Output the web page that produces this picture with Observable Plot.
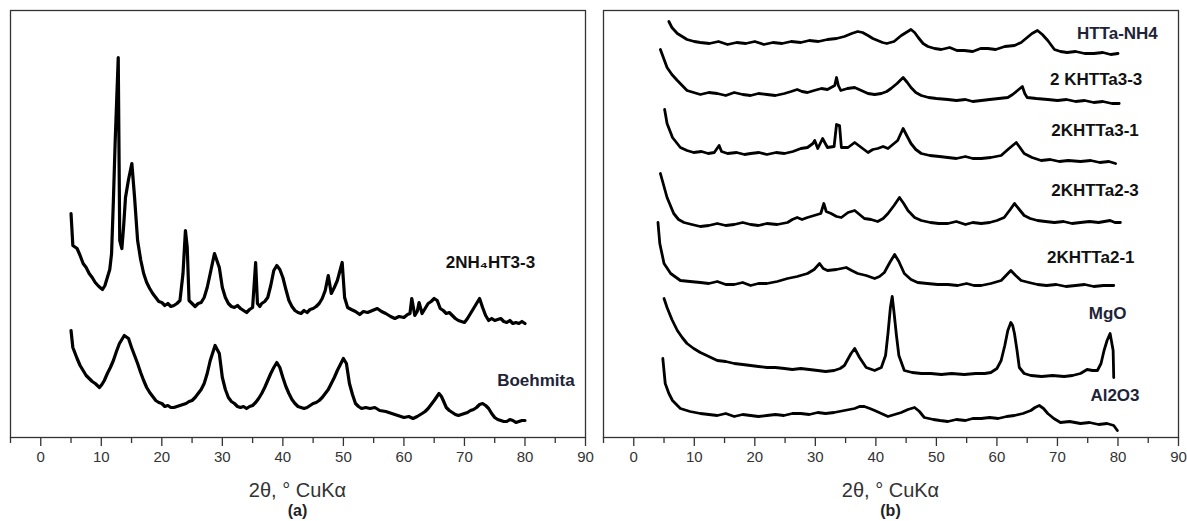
<!DOCTYPE html>
<html>
<head>
<meta charset="utf-8">
<script src="https://cdn.jsdelivr.net/npm/d3@7"></script>
<script src="https://cdn.jsdelivr.net/npm/@observablehq/plot@0.6"></script>
<style>
  html, body { margin: 0; padding: 0; background: #fff; }
  body { width: 1187px; height: 521px; overflow: hidden; font-family: "Liberation Sans", Arial, sans-serif; }
  #wrap { display: flex; flex-direction: row; }
  .panel { display: flex; flex-direction: column; align-items: stretch; }
  .xtitle { text-align: center; font-size: 20px; line-height: 22px; margin-top: 9px; color: #333; }
  .cap { text-align: center; font-size: 16px; font-weight: bold; line-height: 20px; color: #222; }
  .panel.a .xtitle, .panel.a .cap { padding-left: 10px; padding-right: 10px; }
  .panel.b .xtitle, .panel.b .cap { padding-left: 8px; padding-right: 9px; }
</style>
</head>
<body>
<div id="wrap">
  <div class="panel a" id="pa"></div>
  <div class="panel b" id="pb"></div>
</div>
<script>
// ---------- axis ----------
const xDomain = [-5, 90];
const majorTicks = [0, 10, 20, 30, 40, 50, 60, 70, 80, 90];
const minorTicks = [-5, 5, 15, 25, 35, 45, 55, 65, 75, 85];
const xTitle = "2θ, ° CuKα";
const captions = ["(a)", "(b)"];

// ---------- panel (a) series: [2θ, intensity (a.u., offset)] ----------
const nh4ht33 = [
  [5,224],[5.3,192],[6,189],[6.5,182],[7,174],[7.5,170],[8,164],[8.5,160],[9,155],[9.6,151],[10.2,148],[10.6,152],[11,160],[11.4,168],[11.7,184],[12,237],
  [12.3,297],[12.8,380],[13.05,197],[13.4,189],[13.7,212],[14,240],[14.5,258],[15.05,274],[15.5,240],[16,197],[16.5,178],[17,164],[17.5,155],[18,149],
  [18.5,144],[19,140],[19.5,136],[20,135],[20.5,132],[21,134],[21.5,131],[22,132],[22.5,134],[23,137],[23.5,164],[23.9,207],[24.2,190],[24.5,137],
  [25,134],[25.5,131],[26,134],[26.5,135],[27,140],[27.5,150],[28,164],[28.7,184],[29.5,170],[30,150],[30.5,140],[31,134],[31.5,131],[32,130],[32.5,132],[33,129],
  [33.5,127],[34,125],[34.5,128],[35,130],[35.5,175],[35.8,134],[36.2,131],[36.5,134],[37,136],[37.5,140],[38,152],[38.5,167],[39,172],[39.5,168],[40,160],
  [40.5,148],[41,137],[41.5,131],[42,127],[42.5,125],[43,124],[43.5,127],[44,125],[44.5,128],[45,129],[45.5,131],[46,134],[46.5,139],[47,147],[47.5,162],[48,144],[48.5,150],[49,157],
  [49.8,175],[50.2,140],[50.7,130],[51.3,128],[52,126],[52.7,123],[53.3,126],[54,125],[54.8,127],[55.6,129],[56.3,126],[57,124],[57.8,121],[58.5,119],[59.2,121],[60,120],
  [60.6,123],[61,124],[61.3,139],[61.8,122],[62.2,126],[62.5,135],[63,124],[63.5,129],[64,134],[64.5,136],[65,139],[65.5,137],[66,129],
  [66.5,127],[67,124],[67.5,125],[68,122],[68.5,119],[69,117],[69.5,116],[70,115],[70.5,119],[71,124],[71.5,129],[72,134],[72.5,139],[73,130],[73.5,122],[74,117],[74.5,119],[75,117],
  [75.5,118],[76,119],[76.5,116],[77,115],[77.5,117],[78,114],[78.5,115],[79,114],[79.5,116],[80,114]
];
const boehmita = [
  [5,107],[5.3,90],[6,79],[6.5,72],[7,67],[7.5,62],[8,59],[8.5,56],[9,54],[9.7,50],[10.1,53],[10.5,57],[11,64],[11.5,70],[12,77],[12.5,86],[13,94],
  [13.8,102],[14.5,99],[15,90],[15.5,82],[16,74],[16.5,65],[17,57],[17.5,50],[18,45],[18.5,41],[19,37],[19.5,35],[20,34],[20.5,31],[21,32],[21.5,30],[22,30],[22.5,31],[23,32],
  [23.5,33],[24,34],[24.5,36],[25,37],[25.5,40],[26,44],[26.5,48],[27,54],[27.5,64],[28,77],[28.8,92],[29.5,84],[30,60],[30.5,48],[31,40],[31.5,36],[32,34],[32.5,31],[33,30],
  [33.5,31],[34,29],[34.5,31],[35,32],[35.5,35],[36,39],[36.5,44],[37,50],[37.5,57],[38,64],[38.5,70],[39,75],[39.5,70],[40,60],[40.5,51],[41,44],[41.5,38],[42,34],[42.5,31],[43,30],
  [43.5,29],[44,30],[44.5,32],[45,34],[45.5,35],[46,37],[46.5,40],[47,44],[47.5,48],[48,54],[48.5,60],[49,67],[49.5,73],[50,79],[50.5,74],[51,54],[51.5,43],[52,34],[52.5,31],[53,29],
  [53.7,30],[54.4,29],[55.2,30],[56,27],[57,26],[58,24],[59,22],[60,20],[60.8,21],[61.5,19],[62.2,21],[63,24],[63.5,26],[64,29],[64.5,33],[65,37],[65.8,44],[66.2,41],[66.5,37],
  [67,30],[67.5,27],[68,25],[68.5,23],[69,22],[69.5,23],[70,24],[70.5,25],[71,27],[71.5,28],[72,30],[72.5,33],[73,34],[73.5,32],[74,29],[74.5,24],[75,20],[75.5,18],[76,17],[76.5,16],[77,16],
  [77.5,18],[78,17],[78.5,15],[79,16],[79.5,17],[80,17]
];
const seriesA = [nh4ht33, boehmita];
const labelTextA = ["2NH₄HT3-3", "Boehmita"];
const labelXA = [74.3, 81.8];
const labelYA = [175, 57];

// ---------- panel (b) series ----------
const httaNH4 = [
  [5.8,416],[6.3,410],[7.2,404],[8,401],[8.8,398],[10,396],[11,395],[12.5,394],[14,396],[15.5,393],[17,395],
  [18.5,394],[20,396],[21.5,393],[23,395],[24.5,394],[26,396],[27.6,395],[29,397],[30.5,396],[32,398],[33.5,399],
  [34.8,401],[36,404],[37,406],[37.8,405],[38.7,402],[39.5,399],[40.3,397],[41.1,395],[41.8,394],[43,396],[44.2,402],
  [45,405],[45.8,408],[46.4,405],[47,400],[47.8,394],[48.6,391],[49.7,389],[50.8,388],[52.2,390],[53.4,387],[54.6,387],
  [56,386],[57.3,389],[58.5,389],[59.8,388],[61.3,391],[62.9,392],[64,395],[65,400],[65.8,404],[66.7,407],[67.5,403],
  [68.4,397],[69.5,388],[70.5,386],[71.6,385],[73,386],[74.5,384],[76,384],[77.5,385],[78.8,383],[80,384]
];
const khtta33 = [
  [4.4,388],[5.5,370],[6.3,363],[7.2,357],[8,352],[8.8,347],[9.9,345],[11,343],[12.4,345],[13.8,344],[15.2,342],
  [16.6,345],[18,343],[19.3,342],[20.6,344],[22,343],[23.4,342],[24.9,344],[26,346],[27,348],[27.8,346],[28.7,345],
  [29.8,347],[31,349],[32,348],[32.6,350],[33.2,352],[33.5,360],[33.8,352],[34.2,347],[35.3,349],[36.5,350],[37.6,347],
  [38.7,344],[39.8,343],[40.9,344],[41.8,346],[42.5,349],[43.5,354],[44.5,360],[45.2,355],[45.8,350],[46.6,345],
  [47.5,342],[48.7,340],[50,339],[51.9,338],[53.3,337],[54.8,338],[56,336],[57.4,337],[58.8,338],[60.3,339],
  [61.8,340],[62.6,343],[63.4,347],[64.2,351],[64.6,344],[65,340],[66.5,339],[68.4,338],[70,337],[71.5,338],
  [73,336],[74.5,337],[76,335],[77.5,336],[79,334],[80.2,334]
];
const khtta31 = [
  [5.1,328],[5.5,314],[6.4,300],[7.7,290],[8.8,287],[9.9,285],[11.2,286],[12.3,284],[13.3,285],[14.1,292],[14.5,286],
  [15.5,284],[17,285],[18.3,283],[19.3,284],[20.7,285],[22,283],[23.5,285],[24.9,284],[26.3,286],[27.6,289],[28.7,290],
  [29.6,294],[29.9,297],[30.4,289],[31.2,299],[32,290],[33.1,291],[33.5,313],[34,312],[34.3,290],[35.4,290],[36.5,295],
  [37.6,290],[38.7,285],[39.5,288],[40.3,289],[41.2,291],[42,289],[43.6,297],[44.5,309],[45.1,302],[45.8,294],
  [46.6,288],[47.5,284],[48.9,282],[50.5,281],[51.9,280],[53.3,279],[54.8,281],[56,279],[57.4,279],[59,280],
  [60.7,282],[62,289],[63.2,295],[63.8,290],[64.5,284],[65.8,280],[67.3,277],[68.8,278],[70.3,276],[71.8,277],
  [73.8,276],[75.5,277],[77,275],[78.5,276],[79.6,274]
];
const khtta23 = [
  [4.4,264],[5.5,240],[6.6,224],[7.4,218],[8.3,215],[9.6,213],[11,211],[12.4,212],[13.8,214],[15.2,212],[16.6,213],
  [18,215],[19.3,213],[20.6,212],[22,214],[23.7,213],[25.4,215],[26.2,218],[27,220],[27.8,218],[28.7,220],[29.8,222],
  [30.9,224],[31.4,234],[31.8,226],[32.6,224],[33.5,221],[34.3,220],[35.4,225],[36.5,227],[37.3,223],[38.1,219],
  [39.2,218],[40.3,216],[41.2,219],[42,224],[43,232],[43.9,240],[44.6,234],[45.3,227],[46.4,220],[47.5,217],[49,215],
  [50.4,214],[51.9,214],[53.3,216],[54.8,213],[56,215],[57.4,214],[58.8,215],[60,217],[61.2,220],[62.2,228],[62.9,234],
  [63.7,228],[64.5,222],[65.5,219],[66.7,217],[68,216],[69.5,215],[71,216],[72.4,214],[73.8,215],[75.3,216],[76.8,215],
  [78.7,217],[79.5,215],[80.4,215]
];
const khtta21 = [
  [4,215],[4.3,194],[5,174],[6.1,164],[7.7,157],[9.3,156],[11,155],[12.4,154],[13.8,156],[15.2,153],[16.6,153],
  [18,155],[19.3,152],[20.6,154],[22,154],[23.7,156],[25.4,159],[27,161],[28.7,164],[29.8,168],[30.7,174],[31.3,169],
  [32,167],[33.5,168],[35.1,170],[36,167],[37,164],[38.4,162],[39.8,159],[40.6,161],[41.4,165],[42.3,175],[43.1,183],
  [43.8,176],[44.7,164],[45.8,158],[46.9,155],[48.5,154],[50.2,153],[51.9,153],[53.5,152],[55,154],[56.2,152],
  [57.4,152],[59,154],[60.7,157],[61.5,162],[62.3,167],[63.1,162],[64,157],[65.3,155],[66.7,153],[68.2,152],
  [69.8,153],[71.4,151],[73,152],[74.5,153],[76,151],[77.6,152],[79.3,152]
];
const mgo = [
  [5,139],[5.5,130],[6.3,118],[7.2,107],[8,100],[8.8,94],[9.9,89],[11,85],[12.4,81],[13.8,77],[15.2,76],[16.6,74],
  [18,73],[19.3,72],[20.6,71],[22,70],[23.4,70],[24.9,69],[26.2,68],[27.6,69],[29,68],[30.4,67],[31.7,66],[33.1,67],
  [34.1,69],[34.8,72],[35.9,84],[36.5,89],[37.3,80],[38.4,70],[39.8,67],[40.9,70],[41.6,82],[42,104],[42.4,130],
  [42.7,141],[43,125],[43.4,102],[43.8,82],[44.7,67],[46,65],[47.5,64],[49.1,64],[50.8,63],[52.5,64],[54.6,63],
  [56.5,64],[58,64],[59,65],[60,69],[60.7,77],[61.3,92],[61.8,107],[62.3,115],[62.6,112],[62.9,104],[63.3,88],
  [63.7,70],[64.5,64],[65.6,62],[67.4,61],[69.2,62],[71.1,61],[72.5,62],[73.8,64],[74.9,68],[75.8,67],[76.6,67],
  [77.2,74],[77.7,87],[78.2,97],[78.7,104],[79.2,87],[79.3,60]
];
const al2o3 = [
  [4.8,79],[5.2,54],[5.8,44],[6.4,37],[7.7,29],[9.3,26],[11,24],[12.4,23],[13.8,22],[15.2,24],[16.6,21],[18,23],
  [19.3,22],[20.6,21],[22,22],[23.4,23],[24.8,22],[26.2,24],[27.6,24],[29,23],[30.4,25],[31.7,24],[33.1,25],[34.8,27],
  [36.5,29],[37.3,31],[38.1,31],[39,29],[39.8,27],[40.9,24],[42,21],[43.1,23],[44.2,25],[45.3,28],[46.4,30],[47.2,26],
  [48,20],[49.5,18],[50.6,17],[51.9,16],[53.3,18],[54.8,17],[56,19],[57.4,19],[58.8,20],[60.2,19],[61.6,21],[62.9,22],
  [64.3,24],[65.6,27],[66.3,30],[67,32],[67.7,29],[68.4,24],[69.4,19],[70.5,15],[72,16],[73.8,14],[75.3,15],[76.8,13],
  [78.2,14],[79.3,12],[79.9,7]
];
const seriesB = [httaNH4, khtta33, khtta31, khtta23, khtta21, mgo, al2o3];
const labelTextB = ["HTTa-NH4", "2 KHTTa3-3", "2KHTTa3-1", "2KHTTa2-3", "2KHTTa2-1", "MgO", "Al2O3"];
const labelXB = [79.9, 76.4, 76.2, 76.2, 75.5, 78.3, 79.5];
const labelYB = [404, 358, 307, 247, 180, 124, 42];
const labelColorB = ["#1e2438", "#111", "#111", "#111", "#111", "#1e2438", "#1e2438"];

// ---------- drawing ----------
const FONT = "'Liberation Sans', Arial, sans-serif";

function panel({width, ml, mr, series, texts, lx, ly, colors, sw}) {
  const labels = texts.map((t, i) => ({t, x: lx[i], y: ly[i], c: colors ? colors[i] : "#111"}));
  const marks = [
    Plot.frame({stroke: "#333", strokeWidth: 1.3}),
    Plot.axisX(minorTicks, {tickSize: 6, tickFormat: () => "", stroke: "#333", strokeWidth: 1.3}),
    Plot.axisX(majorTicks, {tickSize: 9, tickPadding: 5, fontSize: 15, fill: "#333", stroke: "#333", strokeWidth: 1.3, label: null})
  ];
  for (const s of series) {
    marks.push(Plot.line(s, {x: d => d[0], y: d => d[1], stroke: "#000", strokeWidth: sw, strokeLinejoin: "round"}));
  }
  marks.push(Plot.text(labels, {x: "x", y: "y", text: "t", fill: "c", fontSize: 17, fontWeight: "bold", textAnchor: "middle"}));
  return Plot.plot({
    width, height: 470,
    marginLeft: ml, marginRight: mr, marginTop: 10, marginBottom: 33,
    style: {fontFamily: FONT, background: "#fff", overflow: "visible"},
    x: {domain: xDomain, label: null},
    y: {domain: [0, 427], axis: null},
    marks
  });
}

function build(id, plot, caption) {
  const el = document.getElementById(id);
  el.appendChild(plot);
  const t = document.createElement("div"); t.className = "xtitle"; t.textContent = xTitle; el.appendChild(t);
  const c = document.createElement("div"); c.className = "cap"; c.textContent = caption; el.appendChild(c);
}

build("pa", panel({width: 595, ml: 10, mr: 10, series: seriesA, texts: labelTextA, lx: labelXA, ly: labelYA,
  colors: ["#111", "#1e2438"], sw: 3.2}), captions[0]);
build("pb", panel({width: 592, ml: 8, mr: 9, series: seriesB, texts: labelTextB, lx: labelXB, ly: labelYB,
  colors: labelColorB, sw: 2.8}), captions[1]);
</script>
</body>
</html>
